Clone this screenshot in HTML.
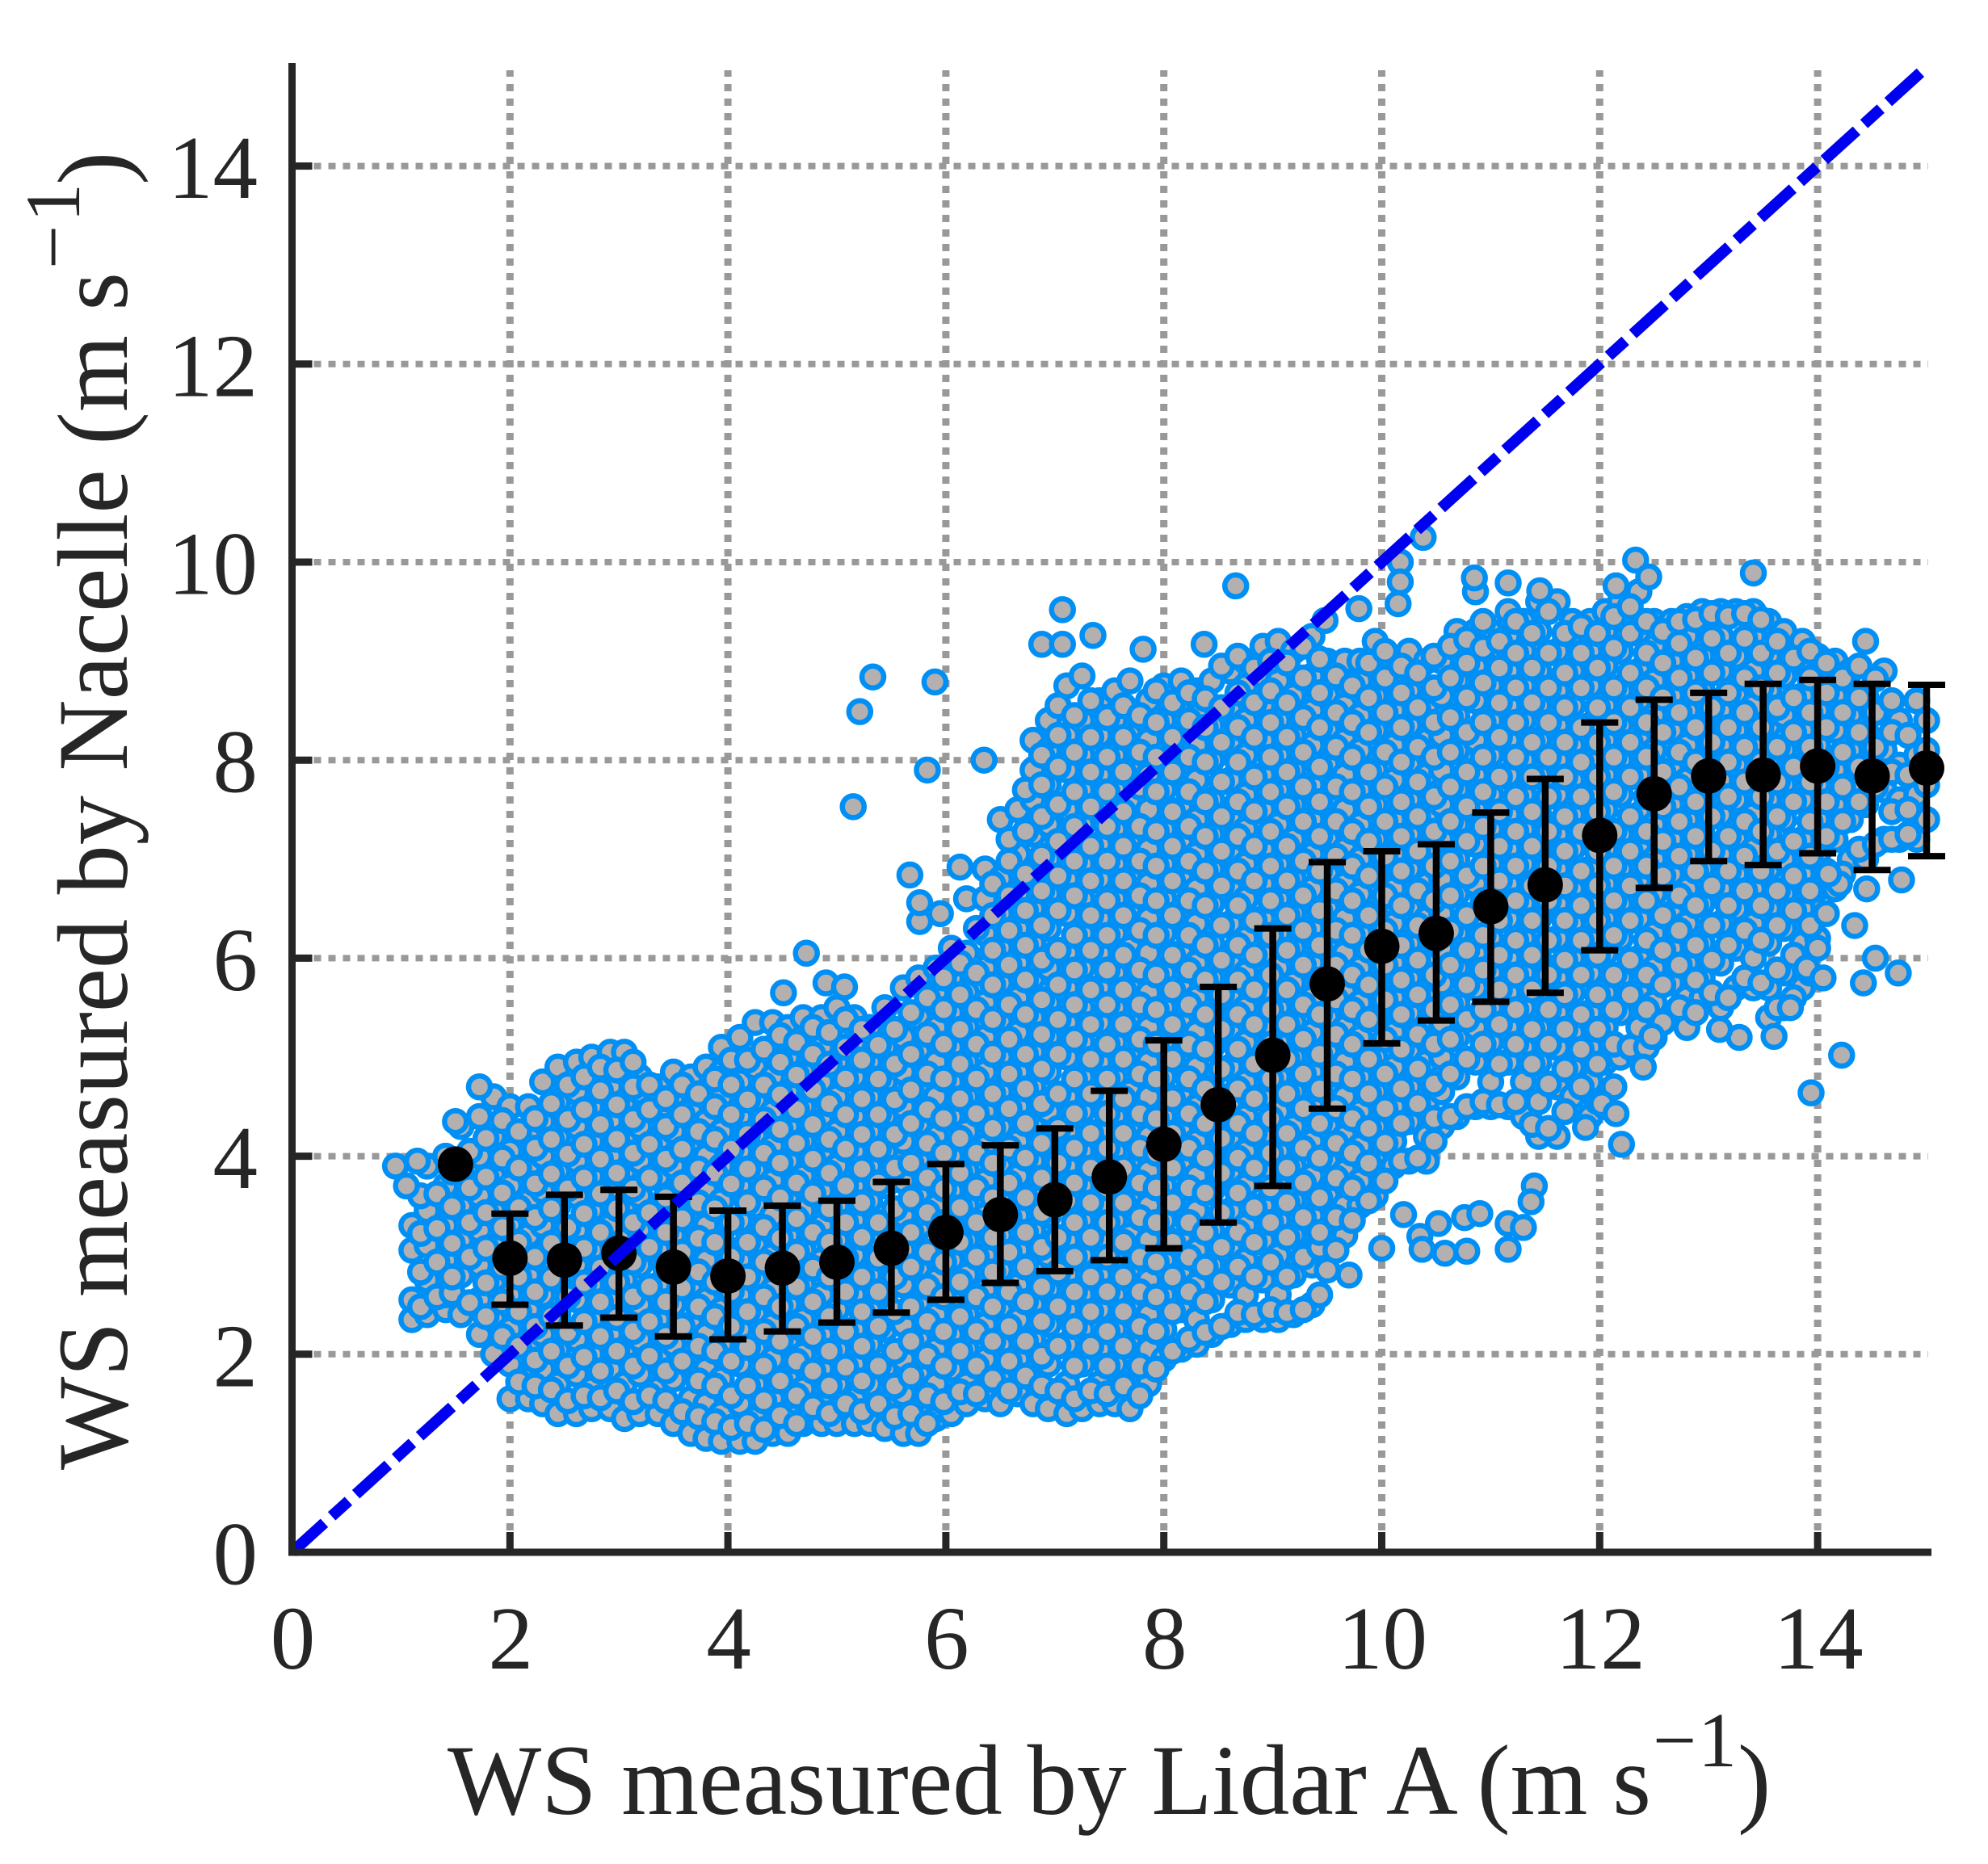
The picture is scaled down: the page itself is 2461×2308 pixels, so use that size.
<!DOCTYPE html>
<html>
<head>
<meta charset="utf-8">
<title>WS measured by Nacelle vs Lidar A</title>
<style>
html,body{margin:0;padding:0;background:#fff;}
svg{display:block;}
text{font-family:"Liberation Serif",serif;fill:#262626;}
</style>
</head>
<body>
<svg id="chart" xmlns="http://www.w3.org/2000/svg" width="2461" height="2308" viewBox="0 0 2461 2308">
<rect width="2461" height="2308" fill="#fff"/>
<g id="grid"></g>
<g id="scatter"></g>
<g id="bins"></g>
<g id="identity"></g>
<g id="axes"></g>
<g>
<text x="554" y="2246" font-size="124" textLength="1490" lengthAdjust="spacingAndGlyphs">WS measured by Lidar A (m s</text>
<text x="2046" y="2187" font-size="96">−</text>
<text x="2102" y="2187" font-size="96">1</text>
<text x="2151" y="2246" font-size="124">)</text>
</g>
<g>
<text transform="translate(157,1820) rotate(-90)" font-size="124" textLength="1483" lengthAdjust="spacingAndGlyphs">WS measured by Nacelle (m s</text>
<text transform="translate(98,333) rotate(-90)" font-size="96">−</text>
<text transform="translate(98,275) rotate(-90)" font-size="96">1</text>
<text transform="translate(157,229) rotate(-90)" font-size="124">)</text>
</g>
</svg>
<script>
const xTicks = [0, 2, 4, 6, 8, 10, 12, 14];
const yTicks = [0, 2, 4, 6, 8, 10, 12, 14];
const identityLine = [0, 14.95];
const binX = [2, 2.5, 3, 3.5, 4, 4.5, 5, 5.5, 6, 6.5, 7, 7.5, 8, 8.5, 9, 9.5, 10, 10.5, 11, 11.5, 12, 12.5, 13, 13.5, 14, 14.5, 15];
const binMean = [2.97, 2.95, 3.02, 2.88, 2.79, 2.87, 2.93, 3.07, 3.23, 3.41, 3.56, 3.79, 4.12, 4.52, 5.02, 5.74, 6.12, 6.25, 6.52, 6.74, 7.24, 7.66, 7.84, 7.85, 7.94, 7.84, 7.92];
const binUpper = [3.42, 3.61, 3.66, 3.59, 3.45, 3.50, 3.55, 3.74, 3.92, 4.11, 4.28, 4.66, 5.17, 5.71, 6.30, 6.97, 7.08, 7.15, 7.47, 7.81, 8.38, 8.61, 8.68, 8.77, 8.81, 8.77, 8.76];
const binLower = [2.50, 2.29, 2.37, 2.18, 2.15, 2.23, 2.32, 2.42, 2.55, 2.72, 2.84, 2.95, 3.07, 3.33, 3.70, 4.48, 5.14, 5.37, 5.56, 5.65, 6.08, 6.71, 6.98, 6.94, 7.06, 6.89, 7.03];
const loneBinX = [1.5];
const loneBinMean = [3.92];
const scatterColumnX = [1.1,1.24,1.41,1.55,1.72,1.85,2,2.17,2.3,2.44,2.61,2.75,2.92,3.05,3.19,3.36,3.5,3.66,3.8,3.94,4.11,4.25,4.41,4.55,4.69,4.86,5,5.16,5.3,5.44,5.61,5.75,5.91,6.05,6.19,6.36,6.5,6.66,6.8,6.94,7.11,7.25,7.41,7.55,7.69,7.86,8,8.16,8.3,8.44,8.61,8.75,8.91,9.05,9.19,9.36,9.5,9.66,9.8,9.94,10.11,10.25,10.41,10.55,10.69,10.86,11,11.16,11.3,11.44,11.61,11.75,11.91,12.05,12.19,12.36,12.5,12.66,12.8,12.94,13.11,13.25,13.41,13.55,13.69,13.86,14,14.16,14.3,14.44,14.61,14.75,14.91,15];
const scatterColumnY = [
[2.35,2.55,3.05,3.3],
[2.4,2.75,3.1,3.45,3.9],
[2.45,2.6,2.95,3.3,3.7,4],
[2.4,2.8,3.15,3.5,3.85,4.3],
[2.2,2.55,2.9,3.25,3.6,4,4.4],
[2,2.35,2.7,3.1,3.45,3.8,4.2,4.6],
[1.55,1.9,2.25,2.6,2.95,3.3,3.7,4.05,4.5],
[1.55,1.75,2.1,2.45,2.8,3.2,3.55,3.9,4.25,4.5],
[1.5,1.85,2.2,2.6,2.95,3.3,3.65,4,4.35,4.75],
[1.4,1.7,2.05,2.4,2.75,3.1,3.5,3.85,4.2,4.55,4.9],
[1.4,1.8,2.15,2.55,2.9,3.25,3.6,3.95,4.3,4.65,4.95],
[1.45,1.65,2,2.35,2.7,3.05,3.45,3.8,4.15,4.5,4.8,5],
[1.45,1.85,2.2,2.55,2.9,3.3,3.65,4,4.35,4.7,5.05],
[1.35,1.7,2.05,2.4,2.75,3.15,3.5,3.85,4.2,4.55,4.85,5.05],
[1.4,1.8,2.15,2.5,2.9,3.25,3.6,3.95,4.3,4.65,4.8],
[1.4,1.65,2,2.35,2.7,3.05,3.4,3.8,4.15,4.45,4.7],
[1.3,1.75,2.1,2.5,2.85,3.2,3.55,3.9,4.25,4.6,4.85],
[1.2,1.55,1.9,2.3,2.65,3,3.35,3.7,4.05,4.45,4.8],
[1.15,1.5,1.85,2.2,2.55,2.95,3.3,3.65,4,4.35,4.65,4.9],
[1.12,1.4,1.75,2.1,2.45,2.8,3.15,3.55,3.9,4.25,4.6,4.85,5.1],
[1.12,1.5,1.9,2.25,2.6,2.95,3.35,3.7,4.05,4.4,4.75,5.2],
[1.12,1.35,1.7,2.05,2.4,2.75,3.1,3.5,3.85,4.2,4.55,4.9,5.35],
[1.2,1.55,1.95,2.3,2.65,3,3.4,3.75,4.1,4.45,4.8,5.1,5.35],
[1.2,1.4,1.75,2.1,2.5,2.85,3.2,3.55,3.95,4.3,4.65,5,5.3],
[1.3,1.65,2,2.35,2.7,3.05,3.45,3.8,4.15,4.5,4.85,5.2,5.4],
[1.3,1.5,1.85,2.2,2.6,2.95,3.3,3.65,4,4.35,4.75,5.1,5.4],
[1.3,1.7,2.05,2.45,2.8,3.15,3.5,3.9,4.25,4.6,4.95,5.25,5.5],
[1.3,1.55,1.9,2.25,2.6,3,3.35,3.7,4.05,4.4,4.8,5.15,5.4],
[1.3,1.7,2.1,2.45,2.8,3.15,3.55,3.9,4.25,4.6,4.95,5.3],
[1.25,1.5,1.85,2.25,2.6,2.95,3.3,3.7,4.05,4.4,4.75,5.1,5.5],
[1.2,1.6,1.95,2.3,2.7,3.05,3.4,3.75,4.15,4.5,4.85,5.2,5.7],
[1.2,1.4,1.8,2.15,2.5,2.85,3.25,3.6,3.95,4.3,4.65,5.05,5.4,5.8],
[1.35,1.7,2.05,2.4,2.75,3.15,3.5,3.85,4.2,4.6,4.95,5.3,5.65,5.9],
[1.4,1.85,2.2,2.55,2.95,3.3,3.65,4,4.4,4.75,5.1,5.45,5.8,6.1],
[1.5,1.7,2.05,2.4,2.8,3.15,3.5,3.85,4.25,4.6,4.95,5.3,5.65,6.05,6.6],
[1.55,1.95,2.3,2.65,3,3.4,3.75,4.1,4.45,4.85,5.2,5.55,5.9,6.25,6.6,6.9],
[1.5,1.75,2.1,2.45,2.85,3.2,3.55,3.9,4.3,4.65,5,5.35,5.75,6.1,6.45,6.8,7.4],
[1.6,1.95,2.35,2.7,3.05,3.4,3.8,4.15,4.5,4.85,5.25,5.6,5.95,6.3,6.65,7.05,7.5],
[1.5,1.8,2.15,2.5,2.9,3.25,3.6,3.95,4.35,4.7,5.05,5.4,5.8,6.15,6.5,6.85,7.25,7.6,7.9,8.2],
[1.45,1.9,2.3,2.65,3,3.4,3.75,4.1,4.45,4.85,5.2,5.55,5.9,6.3,6.65,7,7.35,7.75,8.1,8.4],
[1.4,1.7,2.1,2.45,2.8,3.15,3.55,3.9,4.25,4.6,5,5.35,5.7,6.05,6.45,6.8,7.15,7.5,7.9,8.25,8.75],
[1.45,1.9,2.25,2.6,3,3.35,3.7,4.05,4.45,4.8,5.15,5.5,5.9,6.25,6.6,6.95,7.35,7.7,8.05,8.4,8.85],
[1.5,1.7,2.05,2.45,2.8,3.15,3.5,3.9,4.25,4.6,4.95,5.35,5.7,6.05,6.4,6.8,7.15,7.5,7.85,8.25,8.6],
[1.5,1.9,2.25,2.6,2.95,3.35,3.7,4.05,4.4,4.8,5.15,5.5,5.85,6.25,6.6,6.95,7.3,7.7,8.05,8.4,8.7],
[1.45,1.7,2.1,2.45,2.8,3.2,3.55,3.9,4.25,4.65,5,5.35,5.7,6.1,6.45,6.8,7.15,7.55,7.9,8.25,8.8],
[1.7,2.05,2.4,2.75,3.15,3.5,3.85,4.2,4.6,4.95,5.3,5.65,6.05,6.4,6.75,7.1,7.5,7.85,8.2,8.6],
[1.95,2.25,2.6,2.95,3.35,3.7,4.05,4.4,4.8,5.15,5.5,5.85,6.25,6.6,6.95,7.3,7.7,8.05,8.4,8.75],
[2.05,2.45,2.8,3.15,3.5,3.9,4.25,4.6,4.95,5.35,5.7,6.05,6.4,6.8,7.15,7.5,7.85,8.25,8.55,8.8],
[2.1,2.35,2.7,3.05,3.45,3.8,4.15,4.5,4.9,5.25,5.6,5.95,6.35,6.7,7.05,7.4,7.8,8.15,8.45,8.7],
[2.2,2.55,2.9,3.25,3.65,4,4.35,4.7,5.1,5.45,5.8,6.15,6.55,6.9,7.25,7.6,8,8.35,8.8],
[2.3,2.7,3.05,3.45,3.8,4.15,4.5,4.9,5.25,5.6,5.95,6.35,6.7,7.05,7.4,7.8,8.15,8.5,8.9],
[2.35,2.6,2.95,3.3,3.7,4.05,4.4,4.75,5.15,5.5,5.85,6.2,6.6,6.95,7.3,7.65,8.05,8.4,8.75,9],
[2.35,2.75,3.15,3.5,3.85,4.2,4.6,4.95,5.3,5.65,6.05,6.4,6.75,7.1,7.5,7.85,8.2,8.55,8.85,9.15],
[2.35,2.6,3,3.35,3.7,4.05,4.45,4.8,5.15,5.5,5.9,6.25,6.6,6.95,7.35,7.7,8.05,8.4,8.8,9.2],
[2.4,2.8,3.2,3.55,3.9,4.3,4.65,5,5.35,5.75,6.1,6.45,6.8,7.2,7.55,7.9,8.25,8.65,9.1],
[2.5,2.9,3.05,3.4,3.8,4.15,4.5,4.85,5.25,5.6,5.95,6.3,6.7,7.05,7.4,7.75,8.15,8.5,8.85,9.25],
[2.85,3.2,3.6,3.95,4.3,4.65,5.05,5.4,5.75,6.1,6.5,6.85,7.2,7.55,7.95,8.3,8.65,9],
[3.2,3.5,3.85,4.2,4.6,4.95,5.3,5.65,6.05,6.4,6.75,7.1,7.5,7.85,8.2,8.55,9],
[3.5,3.75,4.1,4.45,4.8,5.2,5.55,5.9,6.25,6.65,7,7.35,7.7,8.1,8.45,8.8,9],
[3.6,3.95,4.3,4.65,5,5.4,5.75,6.1,6.45,6.85,7.2,7.55,7.9,8.3,8.65,9.2],
[3.9,4.15,4.5,4.9,5.25,5.6,5.95,6.35,6.7,7.05,7.4,7.8,8.15,8.5,9],
[3.95,4.35,4.7,5.05,5.45,5.8,6.15,6.5,6.9,7.25,7.6,7.95,8.35,8.7,9.1],
[3.95,4.2,4.55,4.95,5.3,5.65,6,6.4,6.75,7.1,7.45,7.85,8.2,8.55,9],
[4.3,4.65,5,5.35,5.75,6.1,6.45,6.8,7.2,7.55,7.9,8.25,8.65,9],
[4.4,4.8,5.2,5.55,5.9,6.25,6.65,7,7.35,7.7,8.1,8.45,8.8,9.3],
[4.5,4.95,5.3,5.7,6.05,6.4,6.75,7.15,7.5,7.85,8.2,8.6,8.95,9.3,9.7],
[4.5,4.75,5.15,5.5,5.85,6.2,6.6,6.95,7.3,7.65,8.05,8.4,8.75,9.1,9.3],
[4.5,4.95,5.3,5.65,6,6.4,6.75,7.1,7.45,7.85,8.2,8.55,8.9,9.25,9.5],
[4.4,4.75,5.1,5.5,5.85,6.2,6.55,6.95,7.3,7.65,8,8.4,8.75,9.1,9.4],
[4.2,4.55,4.95,5.3,5.65,6,6.4,6.75,7.1,7.45,7.85,8.2,8.55,8.9,9.3,9.6],
[4.2,4.7,5.1,5.45,5.8,6.2,6.55,6.9,7.25,7.65,8,8.35,8.7,9.1,9.6],
[4.6,4.9,5.25,5.65,6,6.35,6.7,7.1,7.45,7.8,8.15,8.55,8.9,9.25,9.4],
[4.4,4.75,5.1,5.45,5.85,6.2,6.55,6.9,7.3,7.65,8,8.35,8.75,9.1,9.4],
[4.5,4.95,5.3,5.65,6.05,6.4,6.75,7.1,7.5,7.85,8.2,8.55,8.95,9.3,9.5],
[5,5.45,5.8,6.2,6.55,6.9,7.25,7.65,8,8.35,8.7,9.1,9.6],
[5,5.3,5.65,6,6.4,6.75,7.1,7.45,7.85,8.2,8.55,8.9,9.3,9.7],
[5.2,5.55,5.9,6.25,6.65,7,7.35,7.7,8.1,8.45,8.8,9.15,9.4],
[5.4,5.75,6.1,6.45,6.85,7.2,7.55,7.9,8.3,8.65,9,9.4],
[5.3,5.6,5.95,6.35,6.7,7.05,7.4,7.8,8.15,8.5,8.85,9.25,9.45],
[5.6,5.8,6.15,6.55,6.9,7.25,7.6,8,8.35,8.7,9.05,9.5],
[5.5,5.95,6.35,6.7,7.05,7.45,7.8,8.15,8.5,8.9,9.25,9.5],
[5.7,6.1,6.5,6.85,7.2,7.6,7.95,8.3,8.65,9.05,9.5],
[5.7,6,6.35,6.7,7.1,7.45,7.8,8.15,8.55,8.9,9.25,9.5],
[5.4,5.7,6.15,6.5,6.9,7.25,7.6,7.95,8.35,8.7,9.05,9.4],
[5.5,5.85,6.3,6.65,7,7.4,7.75,8.1,8.45,8.85,9.3],
[5.7,6.15,6.5,6.85,7.2,7.6,7.95,8.3,8.65,9,9.2],
[6.2,6.7,7.05,7.4,7.75,8.15,8.5,8.85,9.05],
[6.7,7.2,7.55,7.9,8.3,8.65,9],
[7,7.4,7.75,8.1,8.45,8.9],
[7,7.55,7.95,8.3,8.65,9.2],
[7.2,7.7,8.1,8.5,8.9],
[7.2,7.6,7.95,8.4],
[7.2,7.65,8.05,8.6],
[7.4,7.75,8.1,8.4]
];
const scatterLayer2X = [1.18,1.33,1.47,1.63,1.78,1.93,2.08,2.23,2.38,2.53,2.68,2.83,2.98,3.13,3.28,3.43,3.58,3.73,3.88,4.03,4.18,4.33,4.48,4.63,4.78,4.93,5.08,5.23,5.38,5.53,5.68,5.83,5.98,6.13,6.28,6.43,6.58,6.73,6.88,7.03,7.18,7.33,7.48,7.63,7.78,7.93,8.08,8.23,8.38,8.53,8.68,8.83,8.98,9.13,9.28,9.43,9.58,9.73,9.88,10.03,10.18,10.33,10.48,10.63,10.78,10.93,11.08,11.23,11.38,11.53,11.68,11.83,11.98,12.13,12.28,12.43,12.58,12.73,12.88,13.03,13.18,13.33,13.48,13.63,13.78,13.93,14.08,14.23,14.38,14.53,14.68,14.83];
const scatterLayer2Y = [
[2.48,2.83,3.22,3.6],
[2.58,2.93,3.27,3.62],
[2.62,2.78,3.12,3.49,3.84],
[2.52,2.98,3.33,3.68,4.05],
[2.38,2.72,3.07,3.43,3.79,4.18],
[2.18,2.53,2.88,3.28,3.63,3.98,4.36],
[1.72,2.08,2.43,2.78,3.13,3.48,3.88,4.25],
[1.68,1.94,2.28,2.63,2.98,3.38,3.72,4.08,4.38],
[1.64,2.03,2.38,2.77,3.12,3.47,3.82,4.17,4.53],
[1.53,1.88,2.22,2.58,2.93,3.28,3.67,4.02,4.37,4.72],
[1.58,1.97,2.33,2.72,3.07,3.42,3.78,4.12,4.47,4.8],
[1.56,1.83,2.18,2.53,2.87,3.23,3.62,3.97,4.32,4.66,4.9],
[1.63,2.03,2.37,2.73,3.08,3.47,3.83,4.17,4.52,4.87],
[1.52,1.88,2.23,2.58,2.93,3.33,3.67,4.03,4.37,4.7,4.95],
[1.58,1.98,2.33,2.68,3.08,3.43,3.78,4.12,4.47,4.72],
[1.53,1.83,2.18,2.53,2.87,3.23,3.58,3.97,4.3,4.58],
[1.42,1.93,2.28,2.67,3.03,3.37,3.73,4.07,4.42,4.72],
[1.37,1.73,2.08,2.48,2.83,3.17,3.53,3.87,4.25,4.63],
[1.32,1.68,2.03,2.38,2.73,3.13,3.47,3.83,4.17,4.5,4.78],
[1.26,1.58,1.93,2.28,2.63,2.98,3.33,3.72,4.07,4.42,4.72,4.97],
[1.3,1.68,2.07,2.43,2.78,3.13,3.53,3.87,4.22,4.57,4.97],
[1.24,1.53,1.88,2.23,2.58,2.93,3.28,3.68,4.03,4.37,4.72,5.08],
[1.38,1.73,2.13,2.48,2.83,3.17,3.58,3.93,4.27,4.62,4.95,5.22],
[1.3,1.58,1.93,2.28,2.68,3.03,3.37,3.73,4.13,4.47,4.82,5.15],
[1.47,1.83,2.18,2.53,2.87,3.23,3.62,3.97,4.32,4.67,5.03,5.3],
[1.4,1.68,2.03,2.38,2.78,3.13,3.47,3.83,4.17,4.53,4.93,5.25],
[1.5,1.87,2.23,2.63,2.97,3.33,3.7,4.07,4.42,4.78,5.1,5.38],
[1.42,1.73,2.08,2.43,2.78,3.18,3.53,3.87,4.22,4.58,4.97,5.28],
[1.5,1.88,2.28,2.63,2.97,3.33,3.73,4.07,4.42,4.78,5.12],
[1.37,1.68,2.03,2.43,2.78,3.13,3.47,3.88,4.22,4.57,4.93,5.28],
[1.4,1.78,2.13,2.48,2.88,3.23,3.57,3.93,4.33,4.67,5.03,5.45],
[1.3,1.58,1.98,2.33,2.68,3.03,3.43,3.78,4.13,4.47,4.83,5.23,5.6],
[1.52,1.88,2.23,2.58,2.93,3.33,3.67,4.03,4.38,4.78,5.13,5.48,5.8],
[1.62,2.03,2.38,2.73,3.13,3.48,3.83,4.18,4.58,4.93,5.28,5.63,5.95],
[1.6,1.88,2.23,2.58,2.98,3.33,3.68,4.03,4.43,4.78,5.13,5.48,5.85,6.3],
[1.75,2.13,2.48,2.83,3.18,3.58,3.93,4.28,4.63,5.03,5.38,5.73,6.08,6.43,6.75],
[1.63,1.93,2.28,2.63,3.03,3.38,3.73,4.08,4.48,4.83,5.18,5.53,5.93,6.28,6.63,6.98,7.2],
[1.78,2.13,2.53,2.88,3.23,3.58,3.98,4.33,4.68,5.03,5.43,5.78,6.13,6.48,6.85,7.28,7.7],
[1.68,1.98,2.33,2.68,3.08,3.43,3.78,4.13,4.53,4.88,5.23,5.58,5.98,6.33,6.68,7.03,7.43,7.75,8.05],
[1.63,2.08,2.48,2.83,3.18,3.58,3.93,4.28,4.63,5.03,5.38,5.73,6.08,6.48,6.83,7.18,7.55,7.93,8.25,8.55],
[1.55,1.88,2.28,2.63,2.98,3.33,3.73,4.08,4.43,4.78,5.18,5.53,5.88,6.23,6.63,6.98,7.33,7.68,8.08,8.45],
[1.63,2.08,2.43,2.78,3.18,3.53,3.88,4.23,4.63,4.98,5.33,5.68,6.08,6.43,6.78,7.13,7.53,7.88,8.23,8.6],
[1.6,1.88,2.23,2.63,2.98,3.33,3.68,4.08,4.43,4.78,5.13,5.53,5.88,6.23,6.58,6.98,7.33,7.68,8.03,8.43],
[1.68,2.08,2.43,2.78,3.13,3.53,3.88,4.23,4.58,4.98,5.33,5.68,6.03,6.43,6.78,7.13,7.48,7.88,8.23,8.55],
[1.58,1.88,2.28,2.63,2.98,3.38,3.73,4.08,4.43,4.83,5.18,5.53,5.88,6.28,6.63,6.98,7.33,7.73,8.08,8.45],
[1.85,2.23,2.58,2.93,3.33,3.68,4.03,4.38,4.78,5.13,5.48,5.83,6.23,6.58,6.93,7.28,7.68,8.03,8.38,8.7],
[2.03,2.43,2.78,3.13,3.53,3.88,4.23,4.58,4.98,5.33,5.68,6.03,6.43,6.78,7.13,7.48,7.88,8.23,8.58],
[2.15,2.63,2.98,3.33,3.68,4.08,4.43,4.78,5.13,5.53,5.88,6.23,6.58,6.98,7.33,7.68,8.03,8.4,8.68],
[2.22,2.53,2.88,3.23,3.63,3.98,4.33,4.68,5.08,5.43,5.78,6.13,6.53,6.88,7.23,7.58,7.98,8.33,8.62],
[2.28,2.73,3.08,3.43,3.83,4.18,4.53,4.88,5.28,5.63,5.98,6.33,6.73,7.08,7.43,7.78,8.18,8.53,8.95],
[2.42,2.88,3.23,3.63,3.98,4.33,4.68,5.08,5.43,5.78,6.13,6.53,6.88,7.23,7.58,7.98,8.33,8.68,9.05],
[2.4,2.78,3.13,3.48,3.88,4.23,4.58,4.93,5.33,5.68,6.03,6.38,6.78,7.13,7.48,7.83,8.23,8.58,8.93],
[2.45,2.93,3.33,3.68,4.03,4.38,4.78,5.13,5.48,5.83,6.23,6.58,6.93,7.28,7.68,8.03,8.38,8.7,9],
[2.42,2.78,3.18,3.53,3.88,4.23,4.63,4.98,5.33,5.68,6.08,6.43,6.78,7.13,7.53,7.88,8.23,8.58,8.98],
[2.45,2.98,3.38,3.73,4.08,4.48,4.83,5.18,5.53,5.93,6.28,6.63,6.98,7.38,7.73,8.08,8.43,8.83,9.15],
[2.6,3.08,3.23,3.58,3.98,4.33,4.68,5.03,5.43,5.78,6.13,6.48,6.88,7.23,7.58,7.93,8.33,8.68,9.02],
[3.05,3.38,3.78,4.13,4.48,4.83,5.23,5.58,5.93,6.28,6.68,7.03,7.38,7.73,8.13,8.48,8.85],
[3.35,3.68,4.03,4.38,4.78,5.13,5.48,5.83,6.23,6.58,6.93,7.28,7.68,8.03,8.38,8.75],
[3.55,3.93,4.28,4.63,4.98,5.38,5.73,6.08,6.43,6.83,7.18,7.53,7.88,8.28,8.63,8.98],
[3.75,4.13,4.48,4.83,5.18,5.58,5.93,6.28,6.63,7.03,7.38,7.73,8.08,8.48,8.83,9.1],
[3.95,4.33,4.68,5.08,5.43,5.78,6.13,6.53,6.88,7.23,7.58,7.98,8.33,8.68,8.95],
[3.98,4.53,4.88,5.23,5.63,5.98,6.33,6.68,7.08,7.43,7.78,8.13,8.53,8.88],
[4.15,4.38,4.73,5.13,5.48,5.83,6.18,6.58,6.93,7.28,7.63,8.03,8.38,8.73,9.05],
[4.4,4.83,5.18,5.53,5.93,6.28,6.63,6.98,7.38,7.73,8.08,8.43,8.83,9.15],
[4.5,4.98,5.38,5.73,6.08,6.43,6.83,7.18,7.53,7.88,8.28,8.63,8.98,9.22],
[4.55,5.13,5.48,5.88,6.23,6.58,6.93,7.33,7.68,8.03,8.38,8.78,9.13,9.4],
[4.52,4.93,5.33,5.68,6.03,6.38,6.78,7.13,7.48,7.83,8.23,8.58,8.93,9.2],
[4.55,5.13,5.48,5.83,6.18,6.58,6.93,7.28,7.63,8.03,8.38,8.73,9.08,9.4],
[4.32,4.93,5.28,5.68,6.03,6.38,6.73,7.13,7.48,7.83,8.18,8.58,8.93,9.28],
[4.28,4.73,5.13,5.48,5.83,6.18,6.58,6.93,7.28,7.63,8.03,8.38,8.73,9.08,9.5],
[4.45,4.88,5.28,5.63,5.98,6.38,6.73,7.08,7.43,7.83,8.18,8.53,8.88,9.28],
[4.7,5.08,5.43,5.83,6.18,6.53,6.88,7.28,7.63,7.98,8.33,8.73,9.08,9.35],
[4.55,4.93,5.28,5.63,6.03,6.38,6.73,7.08,7.48,7.83,8.18,8.53,8.93,9.28],
[4.7,5.13,5.48,5.83,6.23,6.58,6.93,7.28,7.68,8.03,8.38,8.73,9.13,9.45],
[5.1,5.63,5.98,6.38,6.73,7.08,7.43,7.83,8.18,8.53,8.88,9.28,9.55],
[5.1,5.48,5.83,6.18,6.58,6.93,7.28,7.63,8.03,8.38,8.73,9.08,9.4],
[5.35,5.73,6.08,6.43,6.83,7.18,7.53,7.88,8.28,8.63,8.98,9.3],
[5.5,5.93,6.28,6.63,7.03,7.38,7.73,8.08,8.48,8.83,9.18,9.4],
[5.45,5.78,6.13,6.53,6.88,7.23,7.58,7.98,8.33,8.68,9.03,9.42],
[5.65,5.98,6.33,6.73,7.08,7.43,7.78,8.18,8.53,8.88,9.23,9.48],
[5.6,6.13,6.53,6.88,7.23,7.63,7.98,8.33,8.68,9.08,9.45],
[5.8,6.28,6.68,7.03,7.38,7.78,8.13,8.48,8.83,9.23,9.48],
[5.75,6.18,6.53,6.88,7.28,7.63,7.98,8.33,8.73,9.08,9.42],
[5.5,5.88,6.33,6.68,7.08,7.43,7.78,8.13,8.53,8.88,9.2],
[5.6,6.03,6.48,6.83,7.18,7.58,7.93,8.28,8.63,9.03],
[5.85,6.33,6.68,7.03,7.38,7.78,8.13,8.48,8.83,9.1],
[6.45,6.88,7.23,7.58,7.93,8.33,8.68,8.98],
[6.85,7.38,7.73,8.08,8.48,8.83],
[7.1,7.58,7.93,8.28,8.63,8.95],
[7.15,7.73,8.13,8.48,8.82],
[7.2,7.48,7.88,8.28,8.6],
[7.25,7.5,7.85,8.25]
];
const outlierX = [0.95,1.05,1.15,1.72,1.5,5.15,5.21,5.33,5.9,5.83,6.35,5.67,5.76,5.95,6.13,5.76,4.72,4.51,4.9,5.07,7.07,7.35,8.66,7.81,6.88,7.07,8.37,9.48,9.79,10.17,10.17,10.15,10.38,13.94,14.22,14.77,14.74,14.42,14.53,14.34,11.4,11.37,12.2,11.87,12.02,12.15,12.4,12.48,13.28,13.1,13.6,13.9,13.41,12.33,12.15,12.45,11.16,10.85,11.45,10,10.35,10.52,10.37,10.58,10.78,10.76,10.9,11.16,11.3,11.16,10.2,9.7,14.45,14.2,14.05,14,13.75,14.1];
const outlierY = [3.9,3.7,3.95,4.7,4.35,7.53,8.49,8.84,8.79,7.9,8,6.84,6.37,6.45,6.92,6.56,6.05,5.65,5.75,5.71,9.52,9.26,9.76,9.12,9.17,9.17,9.17,9.41,9.53,10,9.8,9.58,10.25,4.64,5.02,6.79,5.85,5.75,6,6.33,3.7,3.54,4.12,4.29,4.53,4.43,4.9,5.21,5.2,5.28,5.21,5.9,9.89,10.02,9.76,9.85,9.79,9.84,9.71,3.07,3.19,3.32,3.06,3.02,3.04,3.38,3.42,3.32,3.28,3.06,3.41,2.8,6.7,6.75,5.8,6.1,5.5,6.85];

const SVGNS = 'http://www.w3.org/2000/svg';
const xScale = v => 361.5 + v * 134.9;
const yScale = v => 1922 - v * 122.6;
const xMax = 15;
const plotTopY = 87;

function mk(parent, tag, attrs) {
  const el = document.createElementNS(SVGNS, tag);
  for (const k in attrs) el.setAttribute(k, attrs[k]);
  parent.appendChild(el);
  return el;
}

const gridG = document.getElementById('grid');
yTicks.forEach(t => {
  if (t === 0) return;
  const el = mk(gridG, 'line', {x1: xScale(0) + 27, x2: xScale(xMax) + 2, y1: yScale(t), y2: yScale(t), stroke: '#999', 'stroke-width': 8, 'stroke-dasharray': '9 9'});
  
  
});
xTicks.forEach(t => {
  if (t === 0) return;
  const el = mk(gridG, 'line', {x1: xScale(t), x2: xScale(t), y1: yScale(0) - 27, y2: plotTopY, stroke: '#999', 'stroke-width': 9, 'stroke-dasharray': '9 9'});
  
  
});

const scatterG = document.getElementById('scatter');
function drawPoint(x, y) {
  const el = mk(scatterG, 'circle', {cx: xScale(x), cy: yScale(y), r: 13.5, fill: '#b5b0b0', stroke: '#0090f5', 'stroke-width': 6.5});
  
  
}
scatterColumnX.forEach((x, i) => {
  scatterColumnY[i].forEach(y => drawPoint(x, y));
});
scatterLayer2X.forEach((x, i) => {
  scatterLayer2Y[i].forEach(y => drawPoint(x, y));
});
outlierX.forEach((x, i) => drawPoint(x, outlierY[i]));

const binsG = document.getElementById('bins');
binX.forEach((x, i) => {
  const px = xScale(x);
  const stem = mk(binsG, 'line', {x1: px, x2: px, y1: yScale(binUpper[i]), y2: yScale(binLower[i]), stroke: '#000', 'stroke-width': 8.5});
  
  
  [binUpper[i], binLower[i]].forEach(v => {
    const cap = mk(binsG, 'line', {x1: px - 23, x2: px + 23, y1: yScale(v), y2: yScale(v), stroke: '#000', 'stroke-width': 8});
    
    
  });
  const dot = mk(binsG, 'circle', {cx: px, cy: yScale(binMean[i]), r: 22, fill: '#000'});
  
  
});
loneBinX.forEach((x, i) => {
  const dot = mk(binsG, 'circle', {cx: xScale(x), cy: yScale(loneBinMean[i]), r: 22, fill: '#000'});
  
  
});

const identityG = document.getElementById('identity');
const identityEl = mk(identityG, 'line', {x1: xScale(identityLine[0]), y1: yScale(identityLine[0]), x2: xScale(identityLine[1]), y2: yScale(identityLine[1]), stroke: '#0000f0', 'stroke-width': 14, 'stroke-dasharray': '54 12.4 28 12.4'});



const axesG = document.getElementById('axes');
const yAxisLine = mk(axesG, 'line', {x1: xScale(0), x2: xScale(0), y1: 78, y2: yScale(0) + 4.5, stroke: '#262626', 'stroke-width': 9});


const xAxisLine = mk(axesG, 'line', {x1: xScale(0) - 4.5, x2: 2391, y1: yScale(0), y2: yScale(0), stroke: '#262626', 'stroke-width': 9});



xTicks.forEach(t => {
  if (t !== 0) {
    const tick = mk(axesG, 'line', {x1: xScale(t), x2: xScale(t), y1: yScale(0), y2: yScale(0) - 25, stroke: '#262626', 'stroke-width': 9});
    
    
  }
  const label = mk(axesG, 'text', {x: xScale(t) + 1, y: 2066, 'font-size': 111, 'text-anchor': 'middle'});
  label.textContent = String(t);
  
  
});
yTicks.forEach(t => {
  if (t !== 0) {
    const tick = mk(axesG, 'line', {x1: xScale(0), x2: xScale(0) + 25, y1: yScale(t), y2: yScale(t), stroke: '#262626', 'stroke-width': 9});
    
    
  }
  const label = mk(axesG, 'text', {x: 319, y: yScale(t) + 39.5, 'font-size': 111, 'text-anchor': 'end'});
  label.textContent = String(t);
  
  
});
</script>
</body>
</html>
